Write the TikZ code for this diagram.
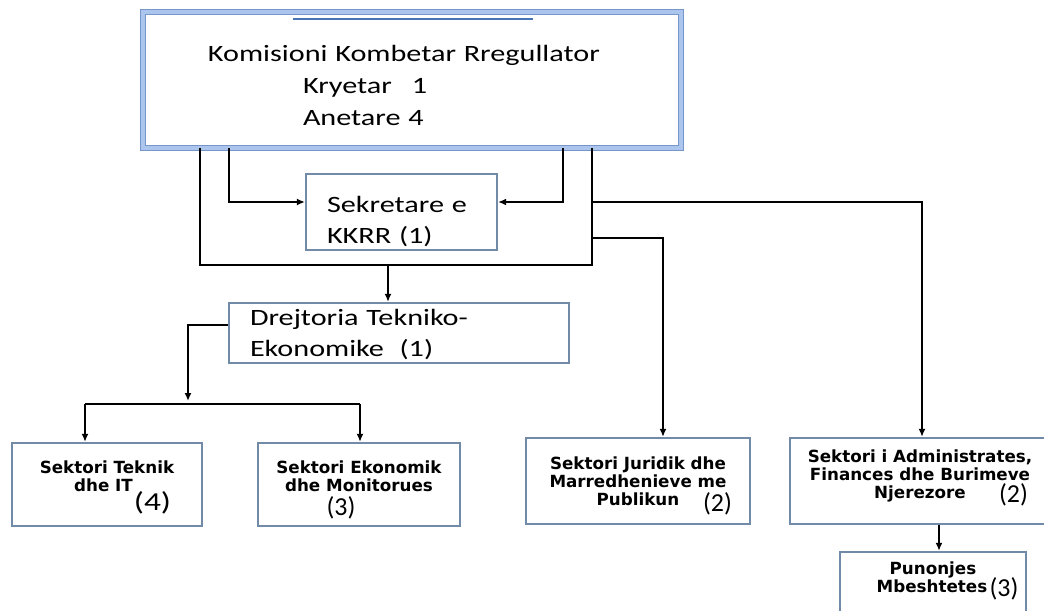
\documentclass[tikz,border=0pt]{standalone}
\usepackage{fontspec}
\usetikzlibrary{arrows.meta}
\newfontfamily\calfont[FakeStretch=1.29]{Carlito}
\newfontfamily\numfont{Carlito}
\newfontfamily\sectfont{DejaVu Sans}
\definecolor{boxline}{RGB}{112,138,168}
\definecolor{toplight}{RGB}{172,197,236}
\definecolor{topdark}{RGB}{118,150,204}
\definecolor{topshade}{RGB}{72,116,182}
\tikzset{
  >={Latex[length=8bp,width=7bp]},
  topbox/.style={draw=topdark, double=toplight, double distance=3.5bp, line width=0.9bp,
    minimum width=538bp, minimum height=136bp, text width=408bp, align=left,
    font=\calfont\fontsize{23.5}{32}\selectfont},
  midbox/.style={draw=boxline, line width=2.2bp, align=left, inner xsep=21bp, inner ysep=0pt,
    font=\calfont\fontsize{23.5}{31}\selectfont},
  secbox/.style={draw=boxline, line width=2.3bp, align=center, inner sep=0pt,
    font=\sectfont\bfseries\fontsize{16.8}{18}\selectfont},
  cnt/.style={inner sep=0pt, font=\numfont\fontsize{26}{26}\selectfont},
  link/.style={line width=1.8bp}
}
\begin{document}
\begin{tikzpicture}[x=1bp,y=-1bp]
  \useasboundingbox (0,0) rectangle (1044,611);
  \clip (0,0) rectangle (1044,611);
  \node[topbox] (kkr) at (412,80) {\rule{0pt}{26.5bp}Komisioni Kombetar Rregullator\\
    \hspace*{95bp}Kryetar\hspace{20bp}1\\ \hspace*{95bp}Anetare 4};
  \draw[topshade, line width=2.5bp] (293,19) -- (533,19);
  \node[midbox, minimum width=191bp, minimum height=76bp, text width=149bp] (sek) at (401.5,212)
    {\rule{0pt}{36bp}Sekretare e\\KKRR (1)};
  \node[midbox, minimum width=340bp, minimum height=60bp, text width=298bp] (dre) at (399,333)
    {\rule{0pt}{19bp}Drejtoria Tekniko-\\Ekonomike\ \ (1)};
  \node[secbox, minimum width=190bp, minimum height=83bp] (tek) at (107,484.5)
    {Sektori Teknik\\ \hspace*{-7bp}dhe IT\rule[-16bp]{0pt}{0pt}};
  \node[secbox, minimum width=202bp, minimum height=83bp] (eko) at (359,484.5)
    {Sektori Ekonomik\\dhe Monitorues\rule[-16bp]{0pt}{0pt}};
  \node[secbox, minimum width=224bp, minimum height=86bp] (jur) at (638,481)
    {Sektori Juridik dhe\\Marredhenieve me\\Publikun};
  \node[secbox, minimum width=260bp, minimum height=86bp] (adm) at (920,481)
    {Sektori i Administrates,\\Finances dhe Burimeve\\Njerezore\rule[-13.5bp]{0pt}{0pt}};
  \node[secbox, minimum width=186bp, minimum height=60bp] (pun) at (933,582)
    {Punonjes\\ \hspace*{-2bp}Mbeshtetes\rule[-9.5bp]{0pt}{0pt}};
  \node[cnt] (tekn) at ([xshift=45.5bp,yshift=-18.5bp]tek.center) {\calfont(4)};
  \node[cnt] (ekon) at ([xshift=-18bp,yshift=-23bp]eko.center) {(3)};
  \node[cnt] (jurn) at ([xshift=79.5bp,yshift=-23bp]jur.center) {(2)};
  \node[cnt] (admn) at ([xshift=93.5bp,yshift=-14bp]adm.center) {(2)};
  \node[cnt] (punn) at ([xshift=71bp,yshift=-6.5bp]pun.center) {(3)};
  \coordinate (ja) at (229,202);
  \coordinate (jb) at (563,202);
  \coordinate (lb) at (200,265);
  \coordinate (rb) at (592,265);
  \coordinate (jd) at (388,265);
  \coordinate (ra) at (592,202);
  \coordinate (ca) at (922,202);
  \coordinate (rj) at (592,238);
  \coordinate (cj) at (663,238);
  \coordinate (cd) at (188,325);
  \coordinate (cdt) at (188,401);
  \coordinate (bl) at (85,404);
  \coordinate (br) at (360,404);
  \coordinate (cp) at (939,524);
  \draw[link,->] (kkr.south -| ja) -- (ja) -- (sek.west |- ja);
  \draw[link,->] (kkr.south -| jb) -- (jb) -- (sek.east |- jb);
  \draw[link] (kkr.south -| lb) -- (lb) -- (rb) -- (kkr.south -| rb);
  \draw[link,->] (jd) -- (dre.north -| jd);
  \draw[link,->] (ra) -- (ca) -- (adm.north -| ca);
  \draw[link,->] (rj) -- (cj) -- (jur.north -| cj);
  \draw[link,->] (dre.west |- cd) -- (cd) -- (cdt);
  \draw[link] (bl) -- (br);
  \draw[link,->] (bl) -- (tek.north -| bl);
  \draw[link,->] (br) -- (eko.north -| br);
  \draw[link,->] (adm.south -| cp) -- (pun.north -| cp);
\end{tikzpicture}
\end{document}
